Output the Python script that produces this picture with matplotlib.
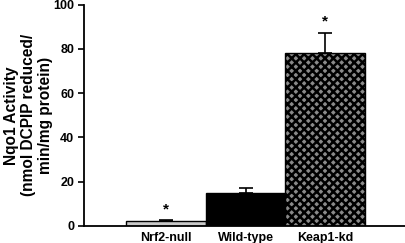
import numpy as np
import matplotlib.pyplot as plt

plt.rcParams['font.family'] = ['Liberation Sans', 'DejaVu Sans']
plt.rcParams['hatch.linewidth'] = 1.8

groups = ['Nrf2-null', 'Wild-type', 'Keap1-kd']
activity = [2.4, 15.0, 78.0]
err = [0.3, 2.3, 9.2]
signif = [True, False, True]

colors = ['#c8c8c8', 'black', '#8a8a8a']
hatches = ['', '', 'xxxx']

fig = plt.figure(figsize=(4.05, 2.43), dpi=100)
ax = fig.add_axes([0.207, 0.07, 0.793, 0.911])

x = np.arange(len(groups))
for i in range(len(groups)):
    ax.bar(x[i], activity[i], width=1.0, color=colors[i], edgecolor='black',
           linewidth=1.0, hatch=hatches[i], zorder=2)
    ax.errorbar(x[i], activity[i], yerr=[[0], [err[i]]], fmt='none',
                ecolor='black', elinewidth=1.2, capsize=5, capthick=1.2, zorder=1)
    if signif[i]:
        ax.text(x[i], activity[i] + err[i] + 1.8, '*', ha='center', va='bottom',
                fontsize=11, fontweight='bold')

ax.set_xlim(-1.03, 3.0)
ax.set_ylim(0, 100)
ax.set_yticks([0, 20, 40, 60, 80, 100])
ax.set_xticks(x)
ax.set_xticklabels(groups, fontweight='bold', fontsize=9)
for lab in ax.get_yticklabels():
    lab.set_fontweight('bold')
    lab.set_fontsize(9)
ax.tick_params(axis='x', length=0, pad=4)
ax.tick_params(axis='y', length=4, width=1.2, direction='out', pad=3)

ax.spines['top'].set_visible(False)
ax.spines['right'].set_visible(False)
ax.spines['left'].set_linewidth(1.3)
ax.spines['bottom'].set_linewidth(1.3)

ax.set_ylabel('Nqo1 Activity\n(nmol DCPIP reduced/\nmin/mg protein)',
              fontweight='bold', fontsize=11.2, linespacing=1.2)
ax.yaxis.set_label_coords(-0.095, 0.5)

fig.savefig('out.png', dpi=100)
